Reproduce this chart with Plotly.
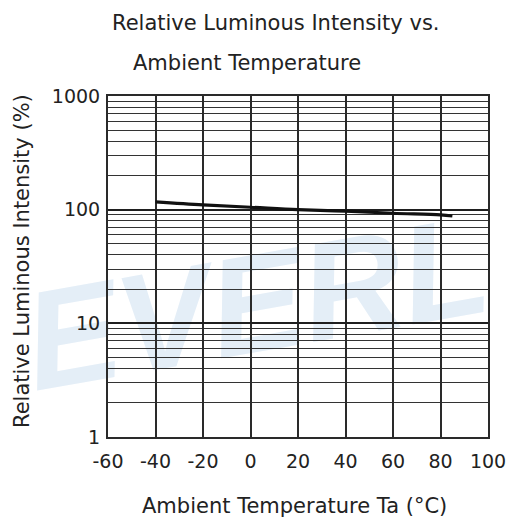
import plotly.graph_objects as go

# Relative luminous intensity (%) vs ambient temperature (°C)
temperature = [-40, -20, 0, 20, 40, 60, 80, 85]
intensity = [117, 110, 105, 100, 97, 93, 90, 88]

x_ticks = [-60, -40, -20, 0, 20, 40, 60, 80, 100]
y_ticks = [1, 10, 100, 1000]

FONT = "DejaVu Sans, Liberation Sans, sans-serif"
INK = "#222222"
W, H = 508, 520
L, R, T, B = 108, 20, 96, 83


def px_x(px):
    return (px - L) / (W - L - R)


def px_y(py):
    return (H - B - py) / (H - T - B)


fig = go.Figure()
fig.add_trace(go.Scatter(
    x=temperature, y=intensity, mode="lines",
    line=dict(color="#111111", width=3.2, shape="spline"),
    showlegend=False, hoverinfo="skip",
))

# faint brand watermark behind the grid
fig.add_shape(
    type="rect", xref="paper", yref="paper",
    x0=px_x(4), x1=px_x(504), y0=px_y(390), y1=px_y(190), layer="below",
    line=dict(width=0), fillcolor="rgba(0,0,0,0)",
    label=dict(text="<b><i>EVERL</i></b>", textangle=-10,
               textposition="middle center",
               font=dict(size=140, color="#e4eef7",
                         family="Liberation Sans, Arial, sans-serif")),
)

fig.update_layout(
    width=W, height=H,
    margin=dict(l=L, r=R, t=T, b=B),
    paper_bgcolor="white", plot_bgcolor="rgba(0,0,0,0)",
    font=dict(family=FONT, size=20, color=INK),
    xaxis=dict(
        range=[-60, 100], tickvals=x_ticks, ticktext=[str(v) for v in x_ticks],
        showgrid=True, gridcolor="#2a2a2a", gridwidth=2,
        showline=True, linecolor="#2a2a2a", linewidth=2, mirror=True,
        zeroline=False, ticks="", ticklen=0, ticklabelstandoff=6,
        automargin=False,
        tickfont=dict(size=19, family=FONT, color=INK),
    ),
    yaxis=dict(
        type="log", range=[0, 3], tickvals=y_ticks,
        ticktext=[str(v) for v in y_ticks],
        showgrid=True, gridcolor="#1f1f1f", gridwidth=1.8,
        minor=dict(showgrid=True, dtick="D1", gridcolor="#333333",
                   gridwidth=1.4, ticks=""),
        showline=True, linecolor="#2a2a2a", linewidth=2, mirror=True,
        zeroline=False, ticks="", ticklen=0, ticklabelstandoff=2,
        automargin=False,
        tickfont=dict(size=19, family=FONT, color=INK),
    ),
    annotations=[
        dict(text="Relative Luminous Intensity vs.", xref="paper", yref="paper",
             x=px_x(276), y=px_y(23), xanchor="center", yanchor="middle",
             showarrow=False, font=dict(size=21, family=FONT, color=INK)),
        dict(text="Ambient Temperature", xref="paper", yref="paper",
             x=px_x(247), y=px_y(63), xanchor="center", yanchor="middle",
             showarrow=False, font=dict(size=21, family=FONT, color=INK)),
        dict(text="Ambient Temperature Ta (°C)", xref="paper", yref="paper",
             x=px_x(294), y=px_y(506), xanchor="center", yanchor="middle",
             showarrow=False, font=dict(size=21, family=FONT, color=INK)),
        dict(text="Relative Luminous Intensity (%)", xref="paper", yref="paper",
             x=px_x(22), y=px_y(261), xanchor="center", yanchor="middle",
             textangle=-90, showarrow=False,
             font=dict(size=21, family=FONT, color=INK)),
    ],
)

fig.write_html("out.html")
